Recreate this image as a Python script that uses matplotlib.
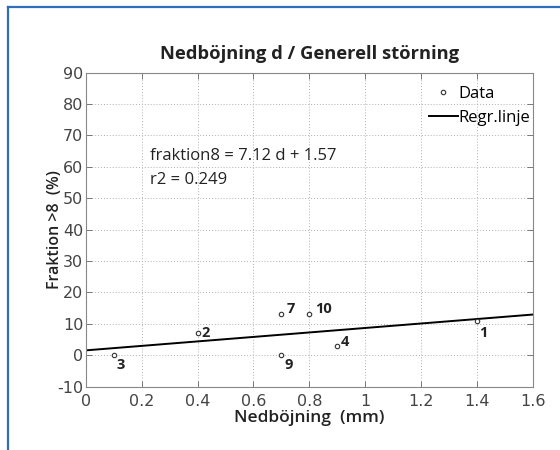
import matplotlib
matplotlib.use("Agg")
import matplotlib.pyplot as plt
from matplotlib.lines import Line2D
import numpy as np

plt.rcParams["axes.unicode_minus"] = False

# Data
defl = [1.4, 0.4, 0.1, 0.9, 0.7, 0.7, 0.8]
frac = [11, 7, 0, 3, 13, 0, 13]
ids = ["1", "2", "3", "4", "7", "9", "10"]
slope = 7.12
intercept = 1.57
r2 = 0.249
x_ticks = [0, 0.2, 0.4, 0.6, 0.8, 1, 1.2, 1.4, 1.6]
x_ticklabels = ["0", "0.2", "0.4", "0.6", "0.8", "1", "1.2", "1.4", "1.6"]
y_ticks = [-10, 0, 10, 20, 30, 40, 50, 60, 70, 80, 90]

# label offsets in points
offsets = {"1": (2, -9), "2": (2.5, 0.5), "3": (2, -7), "4": (2.5, 3),
           "7": (4, 4), "9": (2, -7), "10": (4.5, 4)}

fig = plt.figure(figsize=(5.6, 4.5), dpi=100)
ax = fig.add_axes([0.1536, 0.1407, 0.7975, 0.698])

fam = ["Open Sans", "DejaVu Sans"]

ax.plot(defl, frac, linestyle="none", marker="o", markersize=3.2,
        markerfacecolor="white", markeredgecolor="#333333", markeredgewidth=0.8,
        label="Data", zorder=3)
xl = np.array([0, 1.6])
ax.plot(xl, slope * xl + intercept, color="black", lw=1.4, label="Regr.linje", zorder=2)

for x, y, t in zip(defl, frac, ids):
    dx, dy = offsets[t]
    ax.annotate(t, (x, y), xytext=(dx, dy), textcoords="offset points",
                fontsize=10.5, fontweight="bold", family=fam, color="#222222",
                va="center", ha="left")

ax.text(0.23, 63.5, f"fraktion8 = {slope} d + {intercept}", fontsize=12,
        family=fam, color="#222222", va="center")
ax.text(0.23, 55.8, f"r2 = {r2}", fontsize=12, family=fam, color="#222222", va="center")

ax.set_xlim(0, 1.6)
ax.set_ylim(-10, 90)
ax.set_xticks(x_ticks)
ax.set_xticklabels(x_ticklabels)
ax.set_yticks(y_ticks)
ax.grid(True, linestyle=(0, (1, 2)), color="#b0b0b0", lw=0.7)
ax.tick_params(direction="in", top=True, right=True, length=4, width=0.7,
               color="#777777", labelsize=11.5, labelcolor="#444444")
ax.tick_params(axis="x", pad=5)
ax.tick_params(axis="y", pad=2)
for lab in ax.get_xticklabels() + ax.get_yticklabels():
    lab.set_family("DejaVu Sans")
for s in ax.spines.values():
    s.set_color("#888888")
    s.set_linewidth(0.8)

ax.set_title("Nedböjning d / Generell störning", fontsize=13.2, fontweight="bold",
             family=fam, color="#222222", pad=10)
ax.set_xlabel("Nedböjning  (mm)", fontsize=12.5, fontweight="semibold", family=fam,
              color="#222222", labelpad=1)
ax.set_ylabel("Fraktion >8  (%)", fontsize=11.5, fontweight="semibold", family=fam,
              color="#222222", labelpad=-4.5)

leg = ax.legend(loc="upper right", bbox_to_anchor=(1.0, 0.965), frameon=False,
                handlelength=1.7, handletextpad=0.05, borderaxespad=0.0,
                borderpad=0.15, labelspacing=0.45,
                prop={"family": fam, "size": 12})

# blue page frame (top and left edges)
fig.add_artist(Line2D([8 / 560, 1], [1 - 6.5 / 450, 1 - 6.5 / 450],
                      transform=fig.transFigure, color="#2F6EBA", lw=1.6))
fig.add_artist(Line2D([8 / 560, 8 / 560], [0, 1 - 6.5 / 450],
                      transform=fig.transFigure, color="#2F6EBA", lw=1.6))

fig.savefig("out.png", dpi=100, facecolor="white")
